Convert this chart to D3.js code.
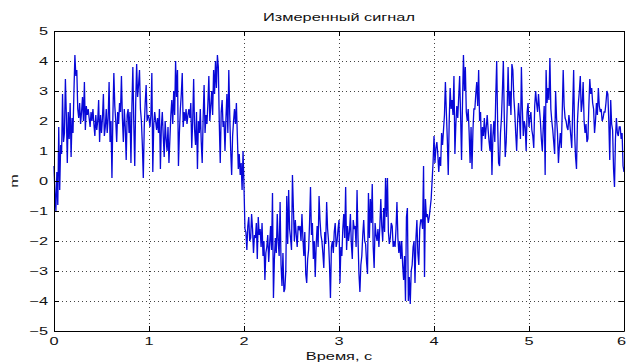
<!DOCTYPE html>
<html>
<head>
<meta charset="utf-8">
<script src="https://cdn.jsdelivr.net/npm/d3@7/dist/d3.min.js"></script>
<style>
  html, body { margin: 0; padding: 0; background: #fff; }
  svg { display: block; font-family: "Liberation Sans", Arial, sans-serif; }
</style>
</head>
<body>
<svg id="chart" width="627" height="362"></svg>
<script>
// Measured signal, sampled every 10 ms over 0..6 s
const sampleStep = 0.01;
const seg0 = [0.5,-0.4,-1.0,0.3,-0.8,1.8,-0.3,1.2,0.9,2.9,1.3,1.6,3.4,2.2,0.6,2.3,1.4,2.6,0.8,2.1,
  1.6,3.0,4.2,3.5,3.7,2.4,2.1,2.6,1.9,2.3,2.8,2.0,3.3,1.7,2.5,2.2,2.4,2.1,1.8,2.3,
  2.0,2.4,1.9,1.5,2.2,1.7,2.0,2.7,1.3,2.2,1.6,2.1,2.9,1.5,1.8,2.4,1.6,2.1,3.3,1.3,
  2.0,0.1,2.2,3.6,2.5,2.0,1.3,2.3,1.9,2.6,2.3,3.5,2.1,1.3,2.4,1.8,0.7,2.2,2.4,1.6,
  2.3,0.6,2.5,3.8,1.9,0.5,2.6,3.9,2.8,3.2,3.7,2.4,2.0,1.2,0.1,1.8,2.6,3.2,2.0,2.2];
const seg1 = [2.1,1.8,2.2,3.6,0.3,1.9,2.3,2.0,1.7,2.1,1.6,2.4,0.4,1.8,2.3,1.5,0.8,2.0,1.4,1.0,
  1.8,0.6,1.4,2.2,2.7,1.9,3.0,2.2,4.0,2.8,3.7,0.5,1.6,2.4,2.9,3.6,1.8,2.3,2.0,2.4,
  1.9,2.2,2.4,2.1,2.6,1.1,2.0,3.4,1.7,1.2,2.3,0.4,2.0,1.6,2.4,1.3,0.6,2.1,3.2,1.6,
  2.2,1.9,2.6,3.5,2.0,2.5,3.0,2.2,3.7,2.9,4.0,3.1,4.2,3.8,1.9,0.6,2.3,2.7,1.8,2.0,
  1.0,2.1,2.9,1.6,3.7,2.2,1.0,0.2,1.5,2.0,2.4,1.9,2.6,1.5,0.4,0.9,0.2,0.6,-0.3,1.0];
const seg2 = [-0.2,-1.6,-1.7,-2.3,-1.5,-1.2,-2.0,-1.9,-1.1,-1.6,-2.4,-1.8,-1.9,-1.4,-2.6,-1.2,-1.8,-1.6,-2.2,-1.4,
  -2.5,-2.0,-3.3,-2.4,-2.2,-1.8,-2.7,-2.1,-1.5,-2.3,-0.4,-3.9,-2.6,-1.9,-2.4,-1.1,-2.0,-2.5,-0.7,-2.8,
  -3.5,-2.4,-3.7,-3.6,-3.0,-0.5,-2.1,-0.3,-1.6,-1.9,-2.3,0.2,-0.9,-2.0,-1.3,-1.8,-2.2,-1.5,-1.6,-1.5,
  -2.0,-1.1,-1.9,-2.5,-1.7,-3.1,-3.4,-2.6,-2.3,-1.4,-0.2,-1.8,-1.4,-2.6,-2.0,-3.2,-2.1,-1.5,-2.2,-0.5,
  -1.3,-1.8,-2.0,-2.4,-2.9,-1.7,-2.1,-0.7,-1.6,-2.0,-2.8,-3.9,-2.2,-2.0,-2.4,-1.7,-1.4,-2.2,-2.0,-1.6];
const seg3 = [-1.3,-3.4,-2.2,-2.5,-1.6,-1.1,-1.9,-0.2,-2.3,-1.5,-2.0,-1.7,-1.1,-2.1,-2.6,-1.3,-1.6,-1.5,-2.2,-0.3,
  -1.9,-3.1,-3.7,-2.8,-2.5,-1.8,-1.3,-2.0,-2.1,-2.7,-3.1,-0.4,-1.9,-0.6,-1.4,-0.1,-2.2,-2.9,-1.4,-1.8,
  -2.0,-1.6,-2.2,-1.5,-0.6,-1.5,-2.0,-0.9,-1.7,0.1,-1.2,0.1,-1.7,-2.1,-1.9,-1.4,-1.5,-2.2,-2.0,-2.2,
  -1.6,-0.7,-1.9,-2.4,-2.0,-2.6,-2.0,-2.8,-3.3,-2.5,-4.0,-1.2,-0.9,-4.0,-3.2,-4.1,-3.0,-2.8,-2.2,-2.0,
  -3.4,-1.9,-1.3,-2.4,-2.8,-1.6,-1.3,-1.3,-1.6,0.5,-3.2,-0.6,-1.2,-1.1,-1.4,-1.2,-0.9,-0.6,0.0,0.6];
const seg4 = [1.5,0.6,1.1,1.3,0.9,0.3,0.8,0.5,1.6,1.2,1.7,2.2,3.3,2.3,1.4,0.2,2.0,3.1,2.4,2.7,
  2.2,3.5,0.9,1.9,2.5,2.1,2.8,3.5,2.2,0.7,2.6,4.2,3.0,3.8,2.3,2.0,2.4,1.6,0.6,1.8,
  0.4,1.7,2.4,2.4,2.9,3.3,2.5,3.7,2.0,2.3,1.0,1.8,1.5,2.1,1.4,1.8,2.2,1.7,1.3,1.0,
  1.9,0.2,1.5,2.0,1.3,2.8,4.0,1.9,0.6,0.5,1.6,2.1,3.0,4.0,2.1,0.8,1.3,2.4,3.8,2.5,
  3.0,2.2,3.9,3.7,2.8,2.3,1.6,1.0,2.0,2.6,2.1,1.4,3.8,2.4,1.5,2.0,1.8,1.0,2.3,2.6];
const seg5 = [1.8,2.1,2.3,1.7,1.5,1.1,2.5,3.0,2.6,2.3,2.9,2.4,2.0,1.4,1.0,1.8,2.5,0.2,3.7,2.6,
  3.1,2.7,4.1,2.4,2.0,1.7,1.3,0.9,3.0,2.1,1.6,0.6,1.2,1.6,1.1,2.3,3.7,2.5,2.1,2.0,
  1.8,1.7,2.2,1.9,1.5,1.1,2.4,3.7,1.6,0.8,0.4,2.0,2.6,3.0,3.5,2.3,2.6,3.3,2.0,1.6,
  1.9,1.3,1.4,2.5,3.4,2.9,3.1,2.6,2.4,1.6,2.0,2.6,2.2,3.1,2.5,2.3,2.4,2.0,2.1,2.3,
  2.3,2.6,3.0,2.9,2.0,0.7,2.7,1.9,1.7,0.4,-0.2,1.4,2.1,1.6,1.5,1.8,1.8,1.4,1.6,0.5,0.3];
const signal = [].concat(seg0, seg1, seg2, seg3, seg4, seg5);

const xTicks = [0, 1, 2, 3, 4, 5, 6];
const yTicks = [-5, -4, -3, -2, -1, 0, 1, 2, 3, 4, 5];
const titleText = "Измеренный сигнал";
const xLabelText = "Время, с";
const yLabelText = "m";

const svg = d3.select("#chart");
const W = 627, H = 362;
const plot = { left: 54, right: 624, top: 31, bottom: 331 };
const fontSize = 11.5;
const stretch = 1.42;   // wide lettering

svg.append("rect").attr("width", W).attr("height", H).attr("fill", "#fff");

const x = d3.scaleLinear().domain([0, 6]).range([plot.left, plot.right]);
const y = d3.scaleLinear().domain([-5, 5]).range([plot.bottom, plot.top]);

// dotted grid
const grid = svg.append("g").attr("stroke", "#444").attr("stroke-width", 1)
  .attr("stroke-dasharray", "1,3").attr("shape-rendering", "crispEdges");
xTicks.slice(1, -1).forEach(t => grid.append("line")
  .attr("x1", Math.round(x(t)) + 0.5).attr("x2", Math.round(x(t)) + 0.5)
  .attr("y1", plot.top).attr("y2", plot.bottom));
yTicks.slice(1, -1).forEach(t => grid.append("line")
  .attr("y1", Math.round(y(t)) + 0.5).attr("y2", Math.round(y(t)) + 0.5)
  .attr("x1", plot.left).attr("x2", plot.right));

// signal trace
const line = d3.line()
  .x((d, i) => x(i * sampleStep))
  .y(d => y(d));
svg.append("path")
  .datum(signal)
  .attr("fill", "none")
  .attr("stroke", "#0808d8")
  .attr("stroke-width", 1.3)
  .attr("d", line);

// axes with inward ticks on all four sides
const tickLen = 5;
const mk = (axis, scale, vals) => axis(scale).tickValues(vals).tickFormat("")
  .tickSizeInner(-tickLen).tickSizeOuter(0);
function styleAxis(g) {
  g.selectAll("path").attr("stroke", "#000").attr("stroke-width", 1);
  g.selectAll("line").attr("stroke", "#000").attr("stroke-width", 1);
}
svg.append("g").attr("transform", `translate(0,${plot.bottom})`).call(mk(d3.axisBottom, x, xTicks)).call(styleAxis);
svg.append("g").attr("transform", `translate(${plot.left},0)`).call(mk(d3.axisLeft, y, yTicks)).call(styleAxis);
svg.append("g").attr("transform", `translate(0,${plot.top})`).call(mk(d3.axisTop, x, xTicks)).call(styleAxis);
svg.append("g").attr("transform", `translate(${plot.right},0)`).call(mk(d3.axisRight, y, yTicks)).call(styleAxis);

// stretched text helper
function label(px, py, str, anchor, extra) {
  return svg.append("text")
    .attr("transform", `translate(${px},${py})${extra || ""} scale(${stretch},1)`)
    .attr("text-anchor", anchor).attr("font-size", fontSize).attr("fill", "#111")
    .text(str);
}

// tick labels; the last one is kept inside the right edge
xTicks.forEach((t, i) => {
  const last = i === xTicks.length - 1;
  label(last ? W - 1 : x(t), 345, d3.format("d")(t), last ? "end" : "middle");
});
yTicks.forEach(t => label(plot.left - 6, y(t) + 4, d3.format("d")(t), "end"));

// titles
label((plot.left + plot.right) / 2, 21, titleText, "middle");
label((plot.left + plot.right) / 2, 360, xLabelText, "middle");
label(18, (plot.top + plot.bottom) / 2, yLabelText, "middle", " rotate(-90)");
</script>
</body>
</html>
